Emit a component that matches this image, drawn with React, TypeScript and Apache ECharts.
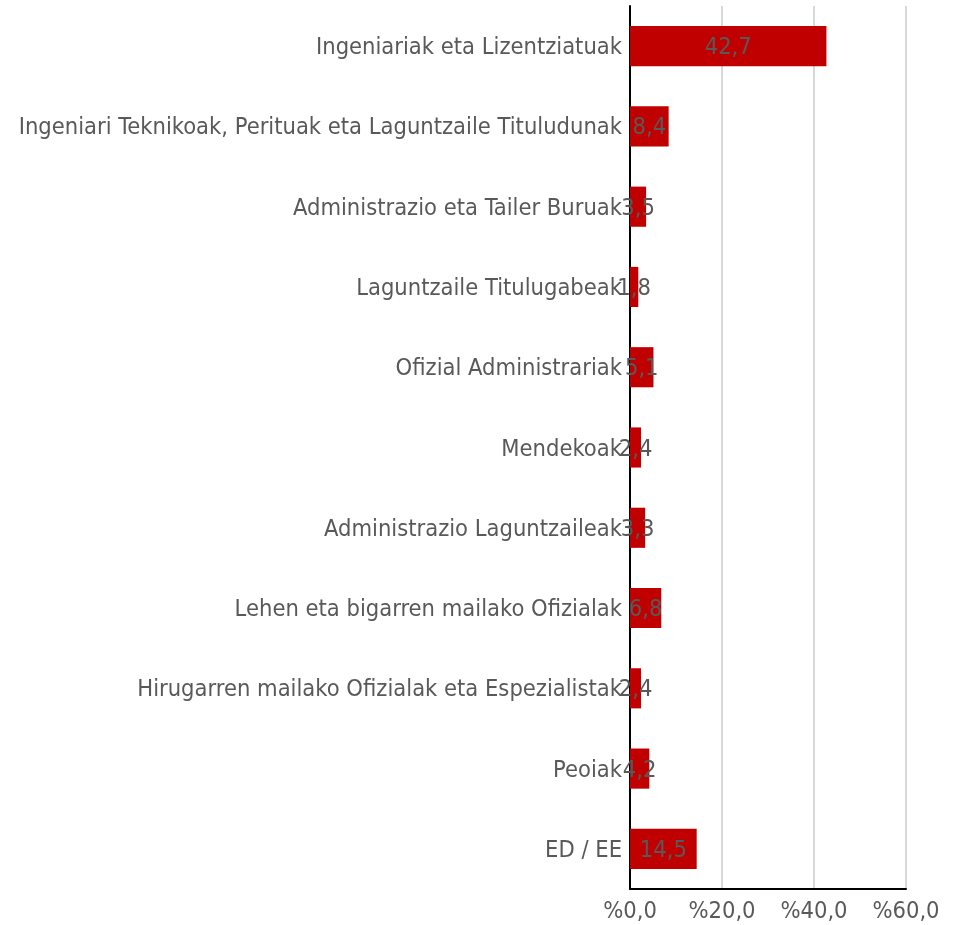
import React, { useEffect, useRef } from "react";
import * as echarts from "echarts";

const categories = [
  "Ingeniariak eta Lizentziatuak",
  "Ingeniari Teknikoak, Perituak eta Laguntzaile Tituludunak",
  "Administrazio eta Tailer Buruak",
  "Laguntzaile Titulugabeak",
  "Ofizial Administrariak",
  "Mendekoak",
  "Administrazio Laguntzaileak",
  "Lehen eta bigarren mailako Ofizialak",
  "Hirugarren mailako Ofizialak eta Espezialistak",
  "Peoiak",
  "ED / EE",
];
const values = [42.7, 8.4, 3.5, 1.8, 5.1, 2.4, 3.3, 6.8, 2.4, 4.2, 14.5];
const xMin = 0;
const xMax = 60;
const xInterval = 20;

const FONT = "'DejaVu Sans Condensed', 'DejaVu Sans'";
const FS = 23.5;

export default function App() {
  const ref = useRef<HTMLDivElement>(null);
  useEffect(() => {
    if (!ref.current) return;
    const chart = echarts.init(ref.current, undefined, { renderer: "svg" });
    chart.setOption({
      animation: false,
      grid: { left: 630, right: 47, top: 6, bottom: 36, containLabel: false },
      xAxis: {
        type: "value",
        min: xMin,
        max: xMax,
        interval: xInterval,
        axisLine: { show: true, lineStyle: { color: "#000", width: 2 } },
        axisTick: { show: false },
        splitLine: { show: true, lineStyle: { color: "#D9D9D9", width: 2 } },
        axisLabel: {
          color: "#595959",
          fontFamily: FONT,
          fontSize: FS,
          margin: 9,
          formatter: (v: number) => "%" + v.toFixed(1).replace(".", ","),
        },
      },
      yAxis: {
        type: "category",
        data: categories,
        inverse: true,
        axisLine: { show: true, onZero: false, lineStyle: { color: "#000", width: 2 } },
        axisTick: { show: false },
        axisLabel: {
          color: "#595959",
          fontFamily: FONT,
          fontSize: FS,
          margin: 8,
          padding: [2, 0, 0, 0],
        },
      },
      series: [
        {
          type: "bar",
          data: values,
          barWidth: "50%",
          itemStyle: { color: "#C00000" },
          label: {
            show: true,
            position: "inside",
            color: "#595959",
            fontFamily: FONT,
            fontSize: FS,
            formatter: (p: any) => String(p.value.toFixed(1)).replace(".", ","),
          },
        },
      ],
    });
    return () => chart.dispose();
  }, []);
  return (
    <div
      ref={ref}
      style={{ position: "fixed", left: 0, top: 0, width: 953, height: 925 }}
    />
  );
}
